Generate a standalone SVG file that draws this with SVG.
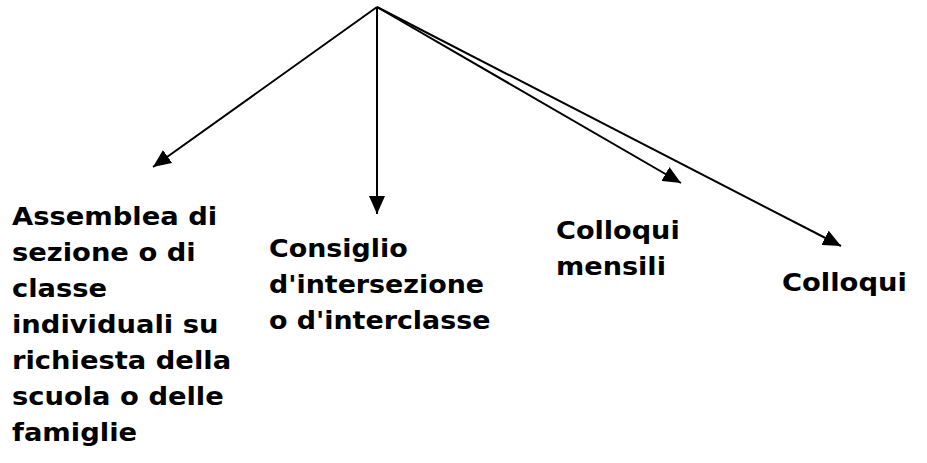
<svg xmlns="http://www.w3.org/2000/svg" width="927" height="463" viewBox="0 0 927 463">
<style>
.t{font-family:"DejaVu Sans",sans-serif;font-weight:bold;font-size:24px;fill:#000}
.c{stroke:#000;stroke-width:2;fill:none}
</style>
<defs>
<marker id="ah" markerUnits="userSpaceOnUse" viewBox="0 0 18 16" refX="18" refY="8" markerWidth="18" markerHeight="16" orient="auto">
<path d="M0,0 L18,8 L0,16 z" fill="#000"/>
</marker>
</defs>
<rect width="927" height="463" fill="#fff"/>
<g id="connectors">
<line class="c" x1="377" y1="7" x2="153" y2="167" marker-end="url(#ah)"/>
<line class="c" x1="377" y1="7" x2="377" y2="214" marker-end="url(#ah)"/>
<line class="c" x1="377" y1="7" x2="681" y2="183" marker-end="url(#ah)"/>
<line class="c" x1="377" y1="7" x2="841" y2="246" marker-end="url(#ah)"/>
</g>
<g id="node1" transform="translate(12,0) scale(1.14,1)">
<text class="t" x="0" y="225">Assemblea di</text>
<text class="t" x="0" y="261">sezione o di</text>
<text class="t" x="0" y="297">classe</text>
<text class="t" x="0" y="333">individuali su</text>
<text class="t" x="0" y="369">richiesta della</text>
<text class="t" x="0" y="405">scuola o delle</text>
<text class="t" x="0" y="441">famiglie</text>
</g>
<g id="node2" transform="translate(269,0) scale(1.12,1)">
<text class="t" x="0" y="257">Consiglio</text>
<text class="t" x="0" y="293">d'intersezione</text>
<text class="t" x="0" y="329">o d'interclasse</text>
</g>
<g id="node3" transform="translate(556,0) scale(1.13,1)">
<text class="t" x="0" y="239">Colloqui</text>
<text class="t" x="0" y="275">mensili</text>
</g>
<g id="node4" transform="translate(782,0) scale(1.14,1)">
<text class="t" x="0" y="291">Colloqui</text>
</g>
</svg>
